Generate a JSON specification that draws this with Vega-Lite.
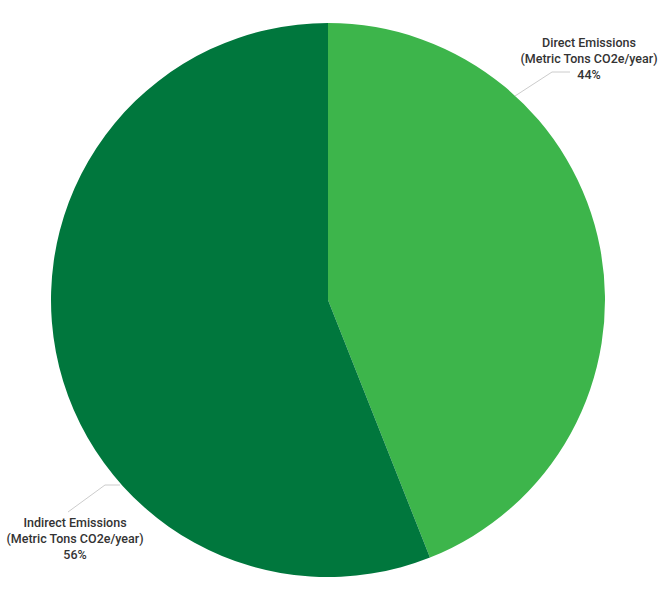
{
  "$schema": "https://vega.github.io/schema/vega-lite/v6.json",
  "width": 665,
  "height": 600,
  "autosize": {"type": "none"},
  "padding": 0,
  "background": "white",
  "config": {"view": {"stroke": null}},
  "datasets": {
    "slices": [
      {"category": "Direct Emissions", "share": 44, "rank": 1, "cx": 0, "cy": 0},
      {"category": "Indirect Emissions", "share": 56, "rank": 2, "cx": 0, "cy": 0}
    ],
    "leaders": [
      {"category": "Direct Emissions", "step": 1, "dx": 187, "dy": -204},
      {"category": "Direct Emissions", "step": 2, "dx": 224, "dy": -228},
      {"category": "Direct Emissions", "step": 3, "dx": 242, "dy": -228},
      {"category": "Indirect Emissions", "step": 1, "dx": -208, "dy": 185},
      {"category": "Indirect Emissions", "step": 2, "dx": -223, "dy": 185},
      {"category": "Indirect Emissions", "step": 3, "dx": -260, "dy": 212}
    ],
    "labels": [
      {"category": "Direct Emissions", "dx": 261, "dy": -257, "label": "Direct Emissions\n(Metric Tons CO2e/year)\n44%"},
      {"category": "Indirect Emissions", "dx": -253, "dy": 223, "label": "Indirect Emissions\n(Metric Tons CO2e/year)\n56%"}
    ]
  },
  "layer": [
    {
      "data": {"name": "slices"},
      "mark": {"type": "arc", "outerRadius": 277},
      "encoding": {
        "x": {"field": "cx", "type": "quantitative", "scale": {"domain": [-328, 337]}, "axis": null},
        "y": {"field": "cy", "type": "quantitative", "scale": {"domain": [-300, 300], "reverse": true}, "axis": null},
        "theta": {"field": "share", "type": "quantitative", "stack": true},
        "order": {"field": "rank", "type": "quantitative"},
        "color": {
          "field": "category",
          "type": "nominal",
          "scale": {"domain": ["Direct Emissions", "Indirect Emissions"], "range": ["#3db54b", "#00773d"]},
          "legend": null
        }
      }
    },
    {
      "data": {"name": "leaders"},
      "mark": {"type": "line", "stroke": "#cccccc", "strokeWidth": 1},
      "encoding": {
        "x": {"field": "dx", "type": "quantitative", "scale": {"domain": [-328, 337]}, "axis": null},
        "y": {"field": "dy", "type": "quantitative", "scale": {"domain": [-300, 300], "reverse": true}, "axis": null},
        "detail": {"field": "category"},
        "order": {"field": "step", "type": "quantitative"}
      }
    },
    {
      "data": {"name": "labels"},
      "mark": {"type": "text", "font": "Roboto", "fontSize": 12.5, "fontWeight": 500, "color": "#333333", "lineBreak": "\n", "lineHeight": 16, "align": "center", "baseline": "middle"},
      "encoding": {
        "x": {"field": "dx", "type": "quantitative", "scale": {"domain": [-328, 337]}, "axis": null},
        "y": {"field": "dy", "type": "quantitative", "scale": {"domain": [-300, 300], "reverse": true}, "axis": null},
        "text": {"field": "label"}
      }
    }
  ]
}
